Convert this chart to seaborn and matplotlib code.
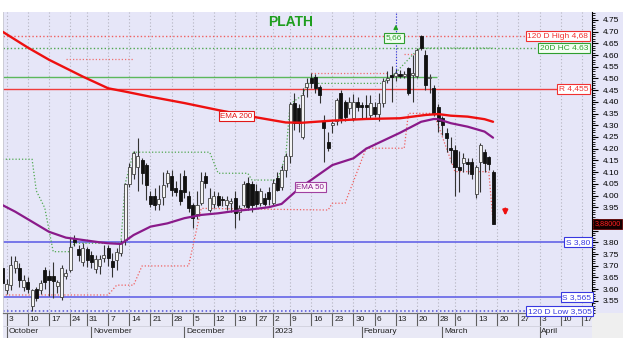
import numpy as np
import pandas as pd
import matplotlib
matplotlib.use("Agg")
import matplotlib.pyplot as plt
from matplotlib.patches import Rectangle
from matplotlib.ticker import MultipleLocator, FixedLocator, FuncFormatter
import seaborn as sns

# ---------------- data ----------------
holidays = ["2022-10-28", "2022-12-26", "2023-01-06", "2023-02-27"]
month_labels = ["October", "November", "December", "2023", "February", "March", "April"]

opens = [3.690, 3.596, 3.617, 3.690, 3.690, 3.610, 3.630, 3.530, 3.600, 3.595,
         3.680, 3.655, 3.655, 3.615, 3.565, 3.655, 3.680, 3.815, 3.770, 3.715,
         3.770, 3.745, 3.685, 3.700, 3.735, 3.775, 3.720, 3.725, 3.755, 3.810,
         4.050, 4.090, 4.120, 4.150, 4.130, 4.000, 4.000, 3.965, 3.995, 4.055,
         4.085, 4.030, 4.025, 4.085, 4.000, 3.960, 3.920, 3.970, 4.085, 3.940,
         3.965, 4.000, 3.985, 3.960, 3.970, 3.990, 3.930, 3.960, 4.055, 4.050,
         4.020, 3.970, 3.990, 4.015, 3.970, 4.075, 4.035, 4.110, 4.170, 4.395,
         4.375, 4.250, 4.465, 4.500, 4.505, 4.465, 4.320, 4.230, 4.300, 4.320,
         4.440, 4.400, 4.375, 4.330, 4.400, 4.385, 4.385, 4.345, 4.380, 4.350,
         4.395, 4.495, 4.515, 4.510, 4.520, 4.510, 4.545, 4.515, 4.510, 4.680,
         4.600, 4.500, 4.460, 4.380, 4.330, 4.265, 4.205, 4.195, 4.120, 4.140,
         4.145, 4.145, 4.005, 4.145, 4.185, 4.165, 4.100]
highs = [3.716, 3.643, 3.741, 3.740, 3.710, 3.660, 3.650, 3.600, 3.610, 3.640,
         3.695, 3.680, 3.715, 3.640, 3.705, 3.685, 3.820, 3.830, 3.790, 3.795,
         3.780, 3.765, 3.745, 3.745, 3.790, 3.790, 3.755, 3.775, 3.810, 4.055,
         4.140, 4.190, 4.245, 4.160, 4.140, 4.020, 4.030, 4.045, 4.100, 4.110,
         4.110, 4.060, 4.095, 4.110, 4.020, 3.970, 4.020, 4.100, 4.100, 4.030,
         4.020, 4.015, 4.000, 4.000, 3.990, 4.020, 3.960, 4.060, 4.080, 4.060,
         4.050, 4.030, 4.010, 4.035, 4.070, 4.100, 4.130, 4.180, 4.400, 4.440,
         4.390, 4.460, 4.500, 4.525, 4.520, 4.470, 4.345, 4.270, 4.320, 4.415,
         4.450, 4.410, 4.420, 4.435, 4.420, 4.400, 4.430, 4.430, 4.400, 4.440,
         4.500, 4.530, 4.555, 4.540, 4.535, 4.530, 4.550, 4.600, 4.630, 4.685,
         4.620, 4.520, 4.470, 4.390, 4.340, 4.290, 4.250, 4.215, 4.190, 4.180,
         4.160, 4.160, 4.130, 4.225, 4.200, 4.170, 4.110]
lows = [3.596, 3.579, 3.596, 3.670, 3.610, 3.590, 3.585, 3.505, 3.550, 3.580,
        3.600, 3.570, 3.560, 3.585, 3.555, 3.645, 3.675, 3.785, 3.720, 3.700,
        3.695, 3.690, 3.670, 3.665, 3.715, 3.700, 3.650, 3.680, 3.740, 3.790,
        4.035, 4.070, 4.020, 4.050, 3.980, 3.950, 3.940, 3.940, 3.960, 4.035,
        4.000, 4.000, 3.960, 3.990, 3.930, 3.860, 3.900, 3.960, 4.030, 3.930,
        3.945, 3.950, 3.955, 3.940, 3.930, 3.860, 3.895, 3.950, 3.940, 3.930,
        3.950, 3.955, 3.955, 3.960, 3.960, 4.020, 4.025, 4.080, 4.140, 4.280,
        4.270, 4.240, 4.420, 4.460, 4.440, 4.395, 4.145, 4.190, 4.265, 4.300,
        4.310, 4.320, 4.350, 4.320, 4.360, 4.330, 4.330, 4.330, 4.335, 4.320,
        4.380, 4.480, 4.400, 4.490, 4.500, 4.500, 4.430, 4.400, 4.500, 4.620,
        4.450, 4.440, 4.340, 4.270, 4.260, 4.185, 4.140, 4.000, 4.015, 4.100,
        4.090, 4.070, 3.990, 4.015, 4.100, 4.110, 3.880]
closes = [3.626, 3.622, 3.703, 3.720, 3.640, 3.640, 3.600, 3.595, 3.560, 3.625,
          3.630, 3.640, 3.635, 3.630, 3.690, 3.670, 3.780, 3.800, 3.745, 3.775,
          3.725, 3.715, 3.730, 3.730, 3.745, 3.735, 3.695, 3.760, 3.795, 4.050,
          4.120, 4.180, 4.170, 4.095, 4.045, 3.965, 3.960, 3.985, 4.045, 4.095,
          4.025, 4.015, 3.975, 4.015, 3.945, 3.905, 3.960, 4.060, 4.055, 3.990,
          4.000, 3.960, 3.980, 3.980, 3.975, 3.925, 3.945, 4.050, 3.950, 3.960,
          3.965, 4.020, 3.965, 3.985, 4.055, 4.025, 4.110, 4.170, 4.390, 4.310,
          4.310, 4.430, 4.480, 4.480, 4.460, 4.430, 4.290, 4.205, 4.310, 4.410,
          4.330, 4.335, 4.400, 4.400, 4.380, 4.380, 4.378, 4.395, 4.350, 4.395,
          4.490, 4.500, 4.505, 4.525, 4.510, 4.520, 4.440, 4.525, 4.620, 4.630,
          4.470, 4.505, 4.350, 4.320, 4.300, 4.245, 4.195, 4.120, 4.110, 4.160,
          4.135, 4.090, 4.120, 4.215, 4.140, 4.135, 3.880]

ema200_day = [-1, 5, 10, 18, 24, 28, 34, 42, 50, 58, 66, 70, 77, 85, 93, 99, 102, 105, 109, 113, 115]
ema200_val = [4.700, 4.632, 4.580, 4.508, 4.458, 4.444, 4.422, 4.395, 4.365, 4.337, 4.312,
              4.311, 4.320, 4.327, 4.330, 4.344, 4.348, 4.341, 4.337, 4.326, 4.315]

ema50_day = [-1, 2, 6, 10, 14, 18, 22, 24, 27, 30, 34, 38, 42, 46, 50, 54, 58, 62, 65,
             69, 74, 77, 82, 85, 93, 98, 101, 102, 105, 109, 113, 115]
ema50_val = [3.959, 3.931, 3.888, 3.845, 3.820, 3.810, 3.800, 3.796, 3.793, 3.831, 3.867,
             3.881, 3.903, 3.917, 3.924, 3.934, 3.941, 3.950, 3.964, 4.028, 4.092, 4.130,
             4.159, 4.200, 4.268, 4.315, 4.327, 4.326, 4.309, 4.294, 4.273, 4.247]

hc_day = [-1, 6, 7, 9, 11, 15, 16, 27, 28, 30, 48, 50, 57, 58, 64, 66, 67, 70, 71, 89, 90, 92, 97, 98, 115]
hc_val = [4.155, 4.155, 4.020, 3.947, 3.760, 3.760, 3.796, 3.796, 4.050, 4.185, 4.185, 4.095,
          4.095, 4.066, 4.066, 4.170, 4.390, 4.430, 4.479, 4.479, 4.500, 4.525, 4.620, 4.630, 4.630]

lc_day = [-1, 24, 26, 30, 32, 43, 46, 76, 77, 80, 85, 94, 95, 101, 106, 114, 115]
lc_val = [3.575, 3.575, 3.617, 3.617, 3.699, 3.699, 3.945, 3.938, 3.967, 3.967, 4.202,
          4.202, 4.351, 4.351, 4.102, 4.102, 3.888]

hh_start = [14, 72, 94]
hh_end = [30, 90, 97]
hh_val = [4.582, 4.522, 4.605]

high_120 = 4.68
hc_20 = 4.63
green_level = 4.505
resistance = 4.455
support1 = 3.80
support2 = 3.565
low_120 = 3.505
target_value = "5,66"

# ---------------- style ----------------
sns.set_theme(style="white")
plt.rcParams["font.family"] = ["Liberation Sans", "DejaVu Sans"]

W, H = 634, 344
LAV = "#e6e6f8"
fig = plt.figure(figsize=(W / 100, H / 100), dpi=100)
fig.patch.set_facecolor("white")

# trading calendar
cal = pd.bdate_range("2022-09-30", "2023-04-21")
cal = cal[~cal.isin(pd.to_datetime(holidays))]
pos = np.arange(len(cal)) - 1

ax = fig.add_axes([3 / W, (H - 313) / H, 589 / W, 301 / H])
ax.set_zorder(3)
ax.set_facecolor(LAV)
ax.set_xlim(-0.875, 138.4)
ax.set_ylim(3.498, 4.784)

weeks = cal.isocalendar().week.values
week_k = [k for k in range(1, len(cal)) if weeks[k] != weeks[k - 1] and pos[k] < 138.4]
week_pos = pos[week_k]
week_lab = [str(cal[k].day) for k in week_k]
month_k = [k for k in range(1, len(cal)) if cal[k].month != cal[k - 1].month]
month_pos = pos[month_k]

# vertical grid
ax.set_xticks(week_pos)
ax.grid(axis="x", color="#b4b4c0", ls=(0, (1, 2)), lw=0.8)
ax.grid(axis="y", visible=False)
ax.tick_params(axis="x", length=0, labelbottom=False, bottom=False)

# right y axis (the last-price tag hides the label next to it)
last_close = closes[-1]
def ytick_fmt(v, _):
    if abs(v - last_close) < 0.03:
        return ""
    return f"{v:.2f}"

ax.yaxis.tick_right()
ax.yaxis.set_major_locator(FixedLocator(np.round(np.arange(3.55, 4.751, 0.05), 2)))
ax.yaxis.set_minor_locator(MultipleLocator(0.01))
ax.yaxis.set_major_formatter(FuncFormatter(ytick_fmt))
ax.tick_params(axis="y", which="major", right=True, left=False, length=4, width=0.8,
               direction="out", colors="black", labelsize=6, pad=4)
ax.tick_params(axis="y", which="minor", right=True, left=False, length=2, width=0.6,
               direction="out", colors="black")
ax.spines["top"].set_visible(False)
ax.spines["right"].set_color("black")
ax.spines["right"].set_linewidth(0.8)
ax.spines["left"].set_color("#c8c8d0")
ax.spines["left"].set_linewidth(0.6)
ax.spines["bottom"].set_color("#707070")
ax.spines["bottom"].set_linewidth(0.8)

# right lavender panel and bottom-right grey box
fig.add_artist(Rectangle((592 / W, (H - 313) / H), 31 / W, 301 / H, transform=fig.transFigure,
                         fc=LAV, ec="none", zorder=-1))
fig.add_artist(Rectangle((592 / W, (H - 338) / H), 31 / W, 25 / H, transform=fig.transFigure,
                         fc="#efefef", ec="none", zorder=-1))

# horizontal levels
dot = (0, (1, 1.6))
ax.axhline(high_120, color="#f06060", ls=dot, lw=1.0, zorder=2)
ax.axhline(hc_20, color="#50a850", ls=dot, lw=1.0, zorder=2)
ax.hlines(green_level, -0.875, 101.8, color="#5cb85c", lw=1.0, zorder=2)
ax.axhline(resistance, color="#f03c3c", lw=1.0, zorder=2)
ax.axhline(support1, color="#6464e6", lw=1.2, zorder=2)
ax.axhline(support2, color="#6464e6", lw=1.2, zorder=2)
ax.axhline(low_120, color="#5050d8", ls=dot, lw=1.1, zorder=2)
ax.hlines(hh_val, hh_start, hh_end, color="#f07070", ls=dot, lw=0.9, zorder=2)

# step lines (20-day highest close / lowest)
sns.lineplot(x=hc_day, y=hc_val, ax=ax, color="#50a850", lw=0.9, linestyle=dot,
             estimator=None, sort=False, legend=False, zorder=2)
sns.lineplot(x=lc_day, y=lc_val, ax=ax, color="#f06060", lw=0.9, linestyle=dot,
             estimator=None, sort=False, legend=False, zorder=2)

# EMAs
sns.lineplot(x=ema200_day, y=ema200_val, ax=ax, color="#ee1010", lw=1.7,
             estimator=None, sort=False, legend=False, zorder=5)
sns.lineplot(x=ema50_day, y=ema50_val, ax=ax, color="#8a1a8a", lw=1.6,
             estimator=None, sort=False, legend=False, zorder=5)

# candles
o = np.array(opens); h = np.array(highs); l = np.array(lows); c = np.array(closes)
x = pos[:len(o)]
up = c >= o
ax.vlines(x, l, h, color="#333333", lw=0.8, zorder=3)
bot = np.minimum(o, c)
hgt = np.maximum(np.abs(c - o), 0.004)
ax.bar(x[up], hgt[up], bottom=bot[up], width=0.72, color="#f4f4f4", edgecolor="#444444",
       linewidth=0.6, zorder=4)
ax.bar(x[~up], hgt[~up], bottom=bot[~up], width=0.72, color="#111111", edgecolor="#111111",
       linewidth=0.6, zorder=4)

# level labels
ytr = ax.get_yaxis_transform()
def lvl_label(txt, val, col, xa=0.9935, fc="white"):
    ax.text(xa, val, txt, transform=ytr, ha="right", va="center", fontsize=6, color=col,
            zorder=8, bbox=dict(boxstyle="square,pad=0.18", fc=fc, ec=col, lw=0.8))

lvl_label("120 D High 4,68", high_120, "#f03030")
lvl_label("20D HC 4.63", hc_20, "#2e9e2e", fc="#f4fff4")
lvl_label("R 4,455", resistance, "#f03030")
lvl_label("S 3,80", support1, "#3838e0", xa=0.997)
lvl_label("S 3,565", support2, "#3838e0", xa=0.999)
lvl_label("120 D Low 3,505", low_120, "#3838e0", xa=0.999)

ax.text(54.3, 4.338, "EMA 200", ha="center", va="center", fontsize=5.8, color="#e01818", zorder=8,
        bbox=dict(boxstyle="square,pad=0.18", fc="white", ec="#e01818", lw=0.8))
ax.text(71.8, 4.036, "EMA 50", ha="center", va="center", fontsize=5.8, color="#8a1a8a", zorder=8,
        bbox=dict(boxstyle="square,pad=0.18", fc="#fbf4fb", ec="#a040a0", lw=0.8))

# target marker
ax.vlines(92, 4.515, 4.784, color="#3030e0", ls=dot, lw=0.8, zorder=3)
ax.annotate("", xy=(92, 4.742), xytext=(92, 4.700),
            arrowprops=dict(arrowstyle="-|>", color="#22a022", lw=1.0, mutation_scale=6), zorder=8)
ax.text(91.6, 4.675, target_value, ha="center", va="center", fontsize=6, color="#2e9e2e", zorder=8,
        bbox=dict(boxstyle="square,pad=0.18", fc="#f0fff0", ec="#2e9e2e", lw=0.8))

# down arrow
ax.annotate("", xy=(117.9, 3.902), xytext=(117.9, 3.956),
            arrowprops=dict(arrowstyle="-|>", color="#ee1010", lw=1.6, mutation_scale=7), zorder=8)

# last price tag
ax.text(1.027, last_close, f"{last_close:.5f}".replace(".", ","), transform=ytr,
        ha="center", va="center", fontsize=5.2, color="#ff2020", zorder=9, clip_on=False,
        bbox=dict(boxstyle="square,pad=0.2", fc="#140000", ec="#600000", lw=0.6))

# title
ax.text(0.4885, 0.968, "PLATH", transform=ax.transAxes, ha="center", va="center",
        fontsize=10, fontweight="bold", color="#1e9e1e", zorder=8)

# date strip
axd = fig.add_axes([3 / W, (H - 338) / H, 589 / W, 25 / H])
axd.set_zorder(1)
axd.set_facecolor("#e9e9f6")
axd.set_xlim(ax.get_xlim())
axd.set_ylim(0, 2)
axd.set_xticks([]); axd.set_yticks([])
for s in ["left", "right", "bottom"]:
    axd.spines[s].set_visible(False)
axd.spines["top"].set_color("#707070")
axd.spines["top"].set_linewidth(0.8)
axd.vlines(week_pos, 1.0, 2.0, color="#606060", lw=0.8)
axd.vlines(month_pos, 0.0, 1.0, color="#606060", lw=0.8)
axd.hlines(1.0, -0.875, 138.4, color="#d0d0dc", lw=0.6)
for p, t in zip(week_pos, week_lab):
    axd.text(p + 0.45, 1.48, t, ha="left", va="center", fontsize=6, color="#222222")
for p, t in zip(month_pos, month_labels):
    axd.text(p + 0.45, 0.5, t, ha="left", va="center", fontsize=6, color="#222222")

fig.savefig("out.png", dpi=100)
